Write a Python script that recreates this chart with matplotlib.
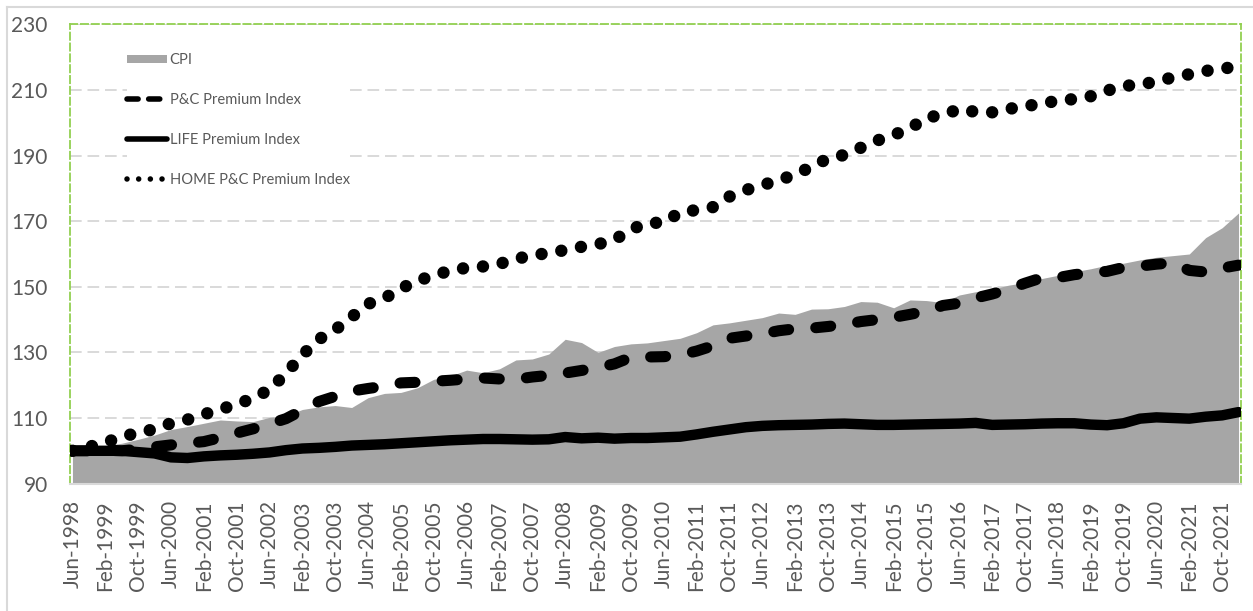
import matplotlib
matplotlib.use("Agg")
import matplotlib.pyplot as plt
import numpy as np
import pandas as pd
from matplotlib.lines import Line2D
from matplotlib.patches import Patch

# ---------------- data (sampled every 4 months, Jun-1998 .. Feb-2022) ----------------
dates = pd.date_range("1998-06-01", periods=72, freq="4MS")

cpi = [100.0, 100.6, 101.6, 102.3, 103.5, 104.8, 106.5, 107.4, 108.4, 109.4,
       109.1, 108.9, 110.2, 110.7, 112.6, 113.4, 113.8, 113.2, 116.2, 117.5,
       117.8, 119.2, 121.8, 122.8, 124.6, 123.8, 125.0, 127.7, 128.0, 129.5,
       134.0, 133.0, 130.0, 131.8, 132.6, 132.9, 133.6, 134.3, 136.0, 138.4,
       139.0, 139.8, 140.6, 142.0, 141.6, 143.2, 143.3, 144.0, 145.5, 145.3,
       143.6, 146.0, 145.8, 145.2, 147.5, 148.5, 149.3, 150.5, 151.3, 152.5,
       153.5, 154.6, 155.5, 156.6, 157.2, 158.2, 159.0, 159.5, 160.0, 165.0,
       168.0, 172.5]

pc_index = [100.0, 100.0, 100.2, 100.0, 100.5, 101.2, 101.8, 102.3, 102.8, 104.0,
            105.4, 106.7, 108.2, 109.8, 112.4, 115.0, 116.6, 118.2, 119.0, 119.7,
            120.7, 120.9, 121.2, 121.5, 121.9, 122.2, 121.9, 121.8, 122.5, 123.0,
            123.7, 124.5, 125.4, 126.5, 128.5, 128.6, 128.7, 129.2, 130.4, 132.0,
            134.3, 135.0, 135.6, 136.6, 137.2, 137.4, 137.9, 138.5, 139.4, 140.0,
            140.7, 141.6, 142.6, 144.3, 145.0, 146.6, 147.8, 149.3, 151.1, 152.7,
            152.8, 153.7, 154.3, 154.7, 155.9, 156.3, 156.9, 157.3, 155.0, 154.5,
            155.7, 156.6]

life_index = [100.0, 100.0, 100.0, 100.0, 99.6, 99.2, 98.0, 97.8, 98.3, 98.6,
              98.8, 99.1, 99.5, 100.2, 100.7, 100.9, 101.2, 101.6, 101.8, 102.0,
              102.3, 102.6, 102.9, 103.2, 103.4, 103.6, 103.6, 103.5, 103.4, 103.5,
              104.2, 103.8, 104.0, 103.7, 103.9, 103.9, 104.1, 104.3, 105.0, 105.8,
              106.5, 107.2, 107.6, 107.8, 107.9, 108.0, 108.2, 108.3, 108.1, 107.9,
              107.9, 108.0, 108.1, 108.2, 108.3, 108.5, 107.9, 108.0, 108.1, 108.3,
              108.4, 108.4, 108.0, 107.8, 108.4, 109.8, 110.2, 110.0, 109.8, 110.4,
              110.8, 111.8]

home_pc_index = [100.0, 101.2, 102.5, 104.3, 105.5, 106.6, 108.4, 109.5, 111.1, 112.7,
                 114.1, 116.1, 118.6, 123.6, 129.2, 134.0, 136.9, 140.8, 144.8, 146.5,
                 149.5, 151.8, 153.5, 154.9, 155.8, 156.2, 157.0, 158.5, 159.6, 160.3,
                 161.2, 162.2, 163.0, 164.3, 167.5, 169.4, 169.6, 172.7, 173.4, 174.3,
                 177.5, 179.5, 181.0, 182.5, 184.2, 186.6, 189.1, 190.2, 192.4, 194.6,
                 196.3, 198.3, 201.6, 202.4, 204.2, 203.3, 203.2, 204.2, 205.2, 205.6,
                 206.9, 207.2, 208.1, 209.8, 211.3, 211.5, 212.7, 213.8, 214.8, 215.8,
                 216.6, 217.0]

series_labels = ["CPI", "P&C Premium Index", "LIFE Premium Index", "HOME P&C Premium Index"]
y_ticks = [90, 110, 130, 150, 170, 190, 210, 230]
tick_dates = dates[::2]
tick_labels = [d.strftime("%b-%Y") for d in tick_dates]

# ---------------- styling ----------------
plt.rcParams["font.family"] = ["Lato", "DejaVu Sans"]
TXT = "#595959"
GRID = "#d9d9d9"
GREEN = "#92d050"
AREA = "#a6a6a6"

start = dates[0]
def month_pos(ds):
    return np.array([(d.year - start.year) * 12 + (d.month - start.month) for d in ds])

x = month_pos(dates)
xt = month_pos(tick_dates)

fig = plt.figure(figsize=(12.53, 6.11), dpi=100)
ax = fig.add_axes([70 / 1253, 1 - 483.6 / 611, 1171 / 1253, 459.2 / 611])

ax.fill_between(x, 90, cpi, color=AREA, lw=0, zorder=1)
ax.plot(x, life_index, color="black", lw=7.5, solid_capstyle="round",
        solid_joinstyle="round", zorder=3)
ax.plot(x, pc_index, color="black", lw=8, linestyle=(0, (1.35, 2.45)),
        dash_capstyle="round", dash_joinstyle="round", zorder=4)
ax.plot(x, home_pc_index, color="black", lw=9, linestyle=(0, (0.001, 1.6)),
        dash_capstyle="round", zorder=5)

ax.set_xlim(x[0] - 0.6, x[-1] + 0.6)
ax.set_ylim(90, 230)
ax.set_yticks(y_ticks)
ax.set_yticklabels([str(v) for v in y_ticks])
ax.set_xticks(xt)
ax.set_xticklabels(tick_labels, rotation=90)
ax.tick_params(axis="y", length=0, pad=16, labelsize=15, labelcolor=TXT)
ax.tick_params(axis="x", length=0, pad=12, labelsize=15, labelcolor=TXT)

ax.yaxis.grid(True, color=GRID, lw=1.4, linestyle=(0, (6, 3)), zorder=0)
ax.set_axisbelow(True)

for s in ["left", "right", "top"]:
    ax.spines[s].set_color(GREEN)
    ax.spines[s].set_linewidth(1.3)
    ax.spines[s].set_linestyle((0, (4, 2)))
ax.spines["bottom"].set_color(GRID)
ax.spines["bottom"].set_linewidth(1.5)

handles = [
    Patch(facecolor=AREA, edgecolor="none"),
    Line2D([], [], color="black", lw=4, linestyle=(0, (2.0, 1.9)), dash_capstyle="round"),
    Line2D([], [], color="black", lw=4, solid_capstyle="round"),
    Line2D([], [], color="black", lw=4, linestyle=(0, (0.001, 2.1)), dash_capstyle="round"),
]
leg = ax.legend(handles, series_labels, loc="upper left",
                bbox_to_anchor=((127 - 70) / 1171, 1 - (53 - 24.4) / 459.2),
                frameon=True, framealpha=1, facecolor="white", edgecolor="none",
                fontsize=10.6, labelcolor=TXT, handlelength=2.7, handleheight=0.5,
                handletextpad=0.2, labelspacing=1.77, borderpad=0.0, borderaxespad=0.0)
leg.set_zorder(6)

# outer chart border (top and left)
fig.add_artist(Line2D([7 / 1253, 1], [1 - 7 / 611, 1 - 7 / 611], color=GRID, lw=1.5,
                      transform=fig.transFigure))
fig.add_artist(Line2D([7 / 1253, 7 / 1253], [0, 1 - 7 / 611], color=GRID, lw=1.5,
                      transform=fig.transFigure))

fig.savefig("out.png", dpi=100, facecolor="white")
